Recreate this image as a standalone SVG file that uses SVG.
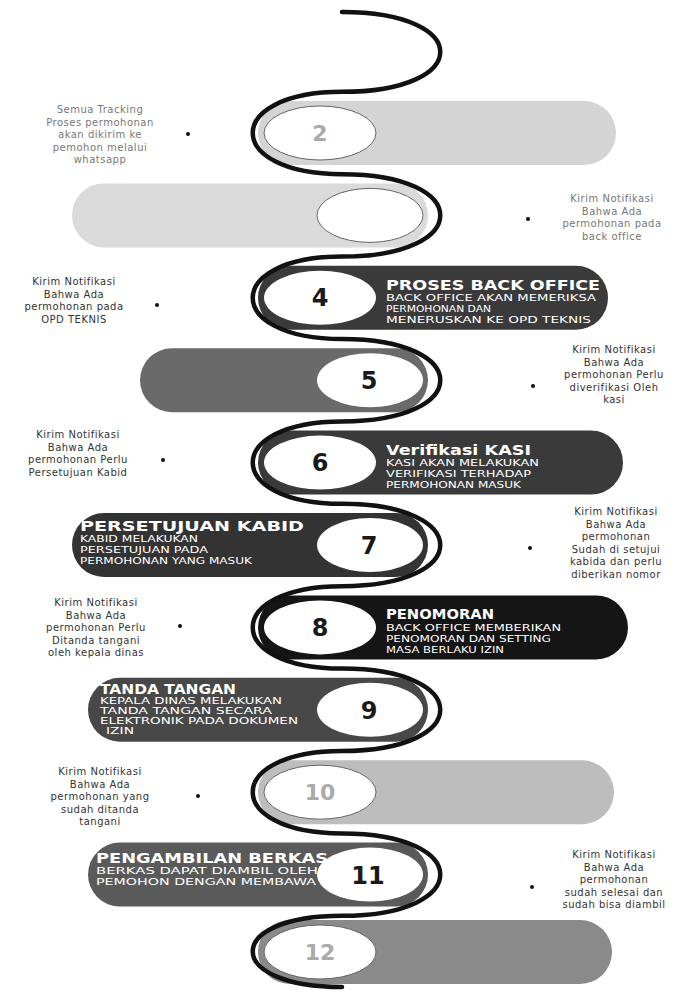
<svg xmlns="http://www.w3.org/2000/svg" width="686" height="992" viewBox="0 0 686 992">
<style>
.snake{fill:none;stroke:#111;stroke-width:4.5;stroke-linecap:round}
.hole{fill:#fff}
.ring{stroke:#666;stroke-width:1}
.num{font-family:"DejaVu Sans",sans-serif;font-weight:bold;font-size:24px;fill:#1a1a1a;text-anchor:middle}
.numf{font-family:"DejaVu Sans",sans-serif;font-weight:bold;font-size:22px;fill:#aaa;text-anchor:middle}
.ttl{font-family:"DejaVu Sans",sans-serif;font-weight:bold;font-size:14px;fill:#fff}
.sub{font-family:"DejaVu Sans",sans-serif;font-size:8.5px;fill:#fff}
.note{font-family:"DejaVu Sans",sans-serif;font-size:10px;fill:#333;text-anchor:middle;letter-spacing:0.5px}
.notef{fill:#777}
.dot{fill:#111}
</style>
<rect width="686" height="992" fill="#fff"/>

<g id="step2">
<rect x="258" y="101" width="358" height="64" rx="32" fill="#d4d4d4"/>
<ellipse class="hole ring" cx="320" cy="133" rx="56" ry="27"/>
<text class="numf" x="320" y="141">2</text>
</g>
<g id="step3">
<rect x="72" y="183.4" width="356" height="64" rx="32" fill="#dadada"/>
<ellipse class="hole ring" cx="370" cy="215.4" rx="53" ry="27"/>
</g>
<g id="step4">
<rect x="258" y="265.8" width="350" height="64" rx="32" fill="#3a3a3a"/>
<ellipse class="hole" cx="320" cy="297.8" rx="56" ry="27"/>
<text class="num" x="320" y="306">4</text>
<text class="ttl" x="386" y="290" textLength="214" lengthAdjust="spacingAndGlyphs">PROSES BACK OFFICE</text>
<text class="sub" x="386" y="301" textLength="210" lengthAdjust="spacingAndGlyphs">BACK OFFICE AKAN MEMERIKSA</text>
<text class="sub" x="386" y="312" textLength="105" lengthAdjust="spacingAndGlyphs">PERMOHONAN DAN</text>
<text class="sub" x="386" y="323" textLength="205" lengthAdjust="spacingAndGlyphs">MENERUSKAN KE OPD TEKNIS</text>
</g>
<g id="step5">
<rect x="140" y="348.2" width="288" height="64" rx="32" fill="#6a6a6a"/>
<ellipse class="hole" cx="370" cy="380.2" rx="53" ry="27"/>
<text class="num" x="369" y="389">5</text>
</g>
<g id="step6">
<rect x="258" y="430.6" width="365" height="64" rx="32" fill="#3a3a3a"/>
<ellipse class="hole" cx="320" cy="462.6" rx="56" ry="27"/>
<text class="num" x="320" y="471">6</text>
<text class="ttl" x="386" y="455" textLength="145" lengthAdjust="spacingAndGlyphs">Verifikasi KASI</text>
<text class="sub" x="386" y="466" textLength="153" lengthAdjust="spacingAndGlyphs">KASI AKAN MELAKUKAN</text>
<text class="sub" x="386" y="477" textLength="145" lengthAdjust="spacingAndGlyphs">VERIFIKASI TERHADAP</text>
<text class="sub" x="386" y="488" textLength="135" lengthAdjust="spacingAndGlyphs">PERMOHONAN MASUK</text>
</g>
<g id="step7">
<rect x="72" y="513" width="356" height="64" rx="32" fill="#333"/>
<ellipse class="hole" cx="370" cy="545" rx="53" ry="27"/>
<text class="num" x="369" y="554">7</text>
<text class="ttl" x="80" y="531" textLength="224" lengthAdjust="spacingAndGlyphs">PERSETUJUAN KABID</text>
<text class="sub" x="80" y="542" textLength="118" lengthAdjust="spacingAndGlyphs">KABID MELAKUKAN</text>
<text class="sub" x="80" y="553" textLength="128" lengthAdjust="spacingAndGlyphs">PERSETUJUAN PADA</text>
<text class="sub" x="80" y="564" textLength="172" lengthAdjust="spacingAndGlyphs">PERMOHONAN YANG MASUK</text>
</g>
<g id="step8">
<rect x="258" y="595.4" width="370" height="64" rx="32" fill="#151515"/>
<ellipse class="hole" cx="320" cy="627.4" rx="56" ry="27"/>
<text class="num" x="320" y="636">8</text>
<text class="ttl" x="386" y="619" textLength="108" lengthAdjust="spacingAndGlyphs">PENOMORAN</text>
<text class="sub" x="386" y="631" textLength="175" lengthAdjust="spacingAndGlyphs">BACK OFFICE MEMBERIKAN</text>
<text class="sub" x="386" y="642" textLength="165" lengthAdjust="spacingAndGlyphs">PENOMORAN DAN SETTING</text>
<text class="sub" x="386" y="653" textLength="118" lengthAdjust="spacingAndGlyphs">MASA BERLAKU IZIN</text>
</g>
<g id="step9">
<rect x="88" y="677.8" width="340" height="64" rx="32" fill="#484848"/>
<ellipse class="hole" cx="370" cy="709.8" rx="53" ry="27"/>
<text class="num" x="369" y="719">9</text>
<text class="ttl" x="100" y="694" textLength="136" lengthAdjust="spacingAndGlyphs">TANDA TANGAN</text>
<text class="sub" x="100" y="704" textLength="182" lengthAdjust="spacingAndGlyphs">KEPALA DINAS MELAKUKAN</text>
<text class="sub" x="100" y="714" textLength="172" lengthAdjust="spacingAndGlyphs">TANDA TANGAN SECARA</text>
<text class="sub" x="100" y="724" textLength="198" lengthAdjust="spacingAndGlyphs">ELEKTRONIK PADA DOKUMEN</text>
<text class="sub" x="106" y="734" textLength="28" lengthAdjust="spacingAndGlyphs">IZIN</text>
</g>
<g id="step10">
<rect x="258" y="760.2" width="356" height="64" rx="32" fill="#bdbdbd"/>
<ellipse class="hole ring" cx="320" cy="792.2" rx="56" ry="27"/>
<text class="numf" x="320" y="800">10</text>
</g>
<g id="step11">
<rect x="88" y="842.6" width="340" height="64" rx="32" fill="#5a5a5a"/>
<ellipse class="hole" cx="370" cy="874.6" rx="53" ry="27"/>
<text class="num" x="368" y="884">11</text>
<text class="ttl" x="96" y="863" textLength="232" lengthAdjust="spacingAndGlyphs">PENGAMBILAN BERKAS</text>
<text class="sub" x="96" y="874" textLength="222" lengthAdjust="spacingAndGlyphs">BERKAS DAPAT DIAMBIL OLEH</text>
<text class="sub" x="96" y="885" textLength="220" lengthAdjust="spacingAndGlyphs">PEMOHON DENGAN MEMBAWA</text>
</g>
<g id="step12">
<rect x="258" y="920" width="354" height="64" rx="32" fill="#8a8a8a"/>
<ellipse class="hole ring" cx="320" cy="952" rx="56" ry="27"/>
<text class="numf" x="320" y="960">12</text>
</g>

<g id="connectors">
<path class="snake" d="M 342 12 C 473 12 473 91.8 342 91.8 C 223 91.8 223 174.2 342 174.2 C 473 174.2 473 256.6 342 256.6 C 223 256.6 223 339 342 339 C 473 339 473 421.4 342 421.4 C 223 421.4 223 503.8 342 503.8 C 473 503.8 473 586.2 342 586.2 C 223 586.2 223 668.6 342 668.6 C 473 668.6 473 751 342 751 C 223 751 223 833.4 342 833.4 C 473 833.4 473 915.8 342 915.8 C 223 915.8 223 987 342 987"/>
</g>

<g id="note2">
<text class="note notef" x="100" y="113">Semua Tracking</text>
<text class="note notef" x="100" y="125.5">Proses permohonan</text>
<text class="note notef" x="100" y="138">akan dikirim ke</text>
<text class="note notef" x="100" y="150.5">pemohon melalui</text>
<text class="note notef" x="100" y="163">whatsapp</text>
<circle class="dot" cx="188" cy="134" r="2"/>
</g>
<g id="note3">
<text class="note notef" x="612" y="202">Kirim Notifikasi</text>
<text class="note notef" x="612" y="214.5">Bahwa Ada</text>
<text class="note notef" x="612" y="227">permohonan pada</text>
<text class="note notef" x="612" y="239.5">back office</text>
<circle class="dot" cx="528" cy="219" r="2"/>
</g>
<g id="note4">
<text class="note" x="74" y="285">Kirim Notifikasi</text>
<text class="note" x="74" y="297.5">Bahwa Ada</text>
<text class="note" x="74" y="310">permohonan pada</text>
<text class="note" x="74" y="322.5">OPD TEKNIS</text>
<circle class="dot" cx="157" cy="305" r="2"/>
</g>
<g id="note5">
<text class="note" x="614" y="353">Kirim Notifikasi</text>
<text class="note" x="614" y="365.5">Bahwa Ada</text>
<text class="note" x="614" y="378">permohonan Perlu</text>
<text class="note" x="614" y="390.5">diverifikasi Oleh</text>
<text class="note" x="614" y="403">kasi</text>
<circle class="dot" cx="533" cy="386" r="2"/>
</g>
<g id="note6">
<text class="note" x="78" y="438">Kirim Notifikasi</text>
<text class="note" x="78" y="450.5">Bahwa Ada</text>
<text class="note" x="78" y="463">permohonan Perlu</text>
<text class="note" x="78" y="475.5">Persetujuan Kabid</text>
<circle class="dot" cx="163" cy="460" r="2"/>
</g>
<g id="note7">
<text class="note" x="616" y="515">Kirim Notifikasi</text>
<text class="note" x="616" y="527.5">Bahwa Ada</text>
<text class="note" x="616" y="540">permohonan</text>
<text class="note" x="616" y="552.5">Sudah di setujui</text>
<text class="note" x="616" y="565">kabida dan perlu</text>
<text class="note" x="616" y="577.5">diberikan nomor</text>
<circle class="dot" cx="530" cy="548" r="2"/>
</g>
<g id="note8">
<text class="note" x="96" y="606">Kirim Notifikasi</text>
<text class="note" x="96" y="618.5">Bahwa Ada</text>
<text class="note" x="96" y="631">permohonan Perlu</text>
<text class="note" x="96" y="643.5">Ditanda tangani</text>
<text class="note" x="96" y="656">oleh kepala dinas</text>
<circle class="dot" cx="180" cy="626" r="2"/>
</g>
<g id="note10">
<text class="note" x="100" y="775">Kirim Notifikasi</text>
<text class="note" x="100" y="787.5">Bahwa Ada</text>
<text class="note" x="100" y="800">permohonan yang</text>
<text class="note" x="100" y="812.5">sudah ditanda</text>
<text class="note" x="100" y="825">tangani</text>
<circle class="dot" cx="198" cy="796" r="2"/>
</g>
<g id="note11">
<text class="note" x="614" y="858">Kirim Notifikasi</text>
<text class="note" x="614" y="870.5">Bahwa Ada</text>
<text class="note" x="614" y="883">permohonan</text>
<text class="note" x="614" y="895.5">sudah selesai dan</text>
<text class="note" x="614" y="908">sudah bisa diambil</text>
<circle class="dot" cx="532" cy="887" r="2"/>
</g>
</svg>
